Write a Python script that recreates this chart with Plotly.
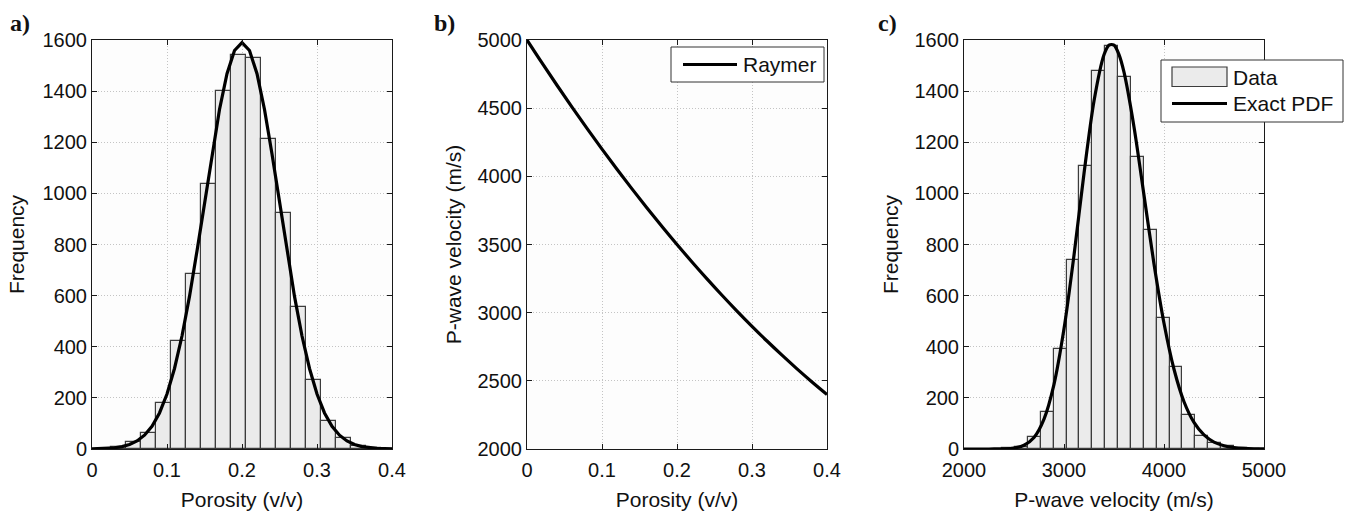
import plotly.graph_objects as go

W, H = 1352, 513

# ---------------- data ----------------
# a) porosity histogram
por_bin_centers = [0.0156, 0.0356, 0.0556, 0.0756, 0.0956, 0.1156, 0.1356, 0.1556, 0.1756, 0.1956,
                   0.2156, 0.2356, 0.2556, 0.2756, 0.2956, 0.3156, 0.3356, 0.3556, 0.3756, 0.3956]
por_counts = [1, 6, 27, 61, 179, 424, 685, 1035, 1401, 1541,
              1530, 1212, 923, 556, 268, 111, 42, 12, 3, 1]
por_bin_width = 0.02
por_pdf_x = [0.00, 0.01, 0.02, 0.03, 0.04, 0.05, 0.06, 0.07, 0.08, 0.09, 0.10,
             0.11, 0.12, 0.13, 0.14, 0.15, 0.16, 0.17, 0.18, 0.19, 0.20,
             0.21, 0.22, 0.23, 0.24, 0.25, 0.26, 0.27, 0.28, 0.29, 0.30,
             0.31, 0.32, 0.33, 0.34, 0.35, 0.36, 0.37, 0.38, 0.39, 0.40]
por_pdf_y = [0.5, 1.2, 2.4, 4.9, 9.5, 17.7, 31.5, 54, 89, 141, 215,
             315, 442, 597, 775, 965, 1154, 1328, 1468, 1559, 1590,
             1559, 1468, 1328, 1154, 965, 775, 597, 442, 315, 215,
             141, 89, 54, 31.5, 17.7, 9.5, 4.9, 2.4, 1.2, 0.5]

# b) Raymer relation
raymer_phi = [0.00, 0.02, 0.04, 0.06, 0.08, 0.10, 0.12, 0.14, 0.16, 0.18, 0.20,
              0.22, 0.24, 0.26, 0.28, 0.30, 0.32, 0.34, 0.36, 0.38, 0.40]
raymer_vp = [5000, 4832, 4668, 4508, 4352, 4200, 4052, 3908, 3768, 3632, 3500,
             3372, 3248, 3128, 3012, 2900, 2792, 2688, 2588, 2492, 2400]

# c) P-wave velocity histogram
vp_bin_centers = [2447, 2576, 2704, 2833, 2962, 3090, 3219, 3348, 3476, 3605,
                  3734, 3863, 3991, 4120, 4249, 4377, 4506, 4635, 4764, 4892]
vp_counts = [2, 9, 48, 143, 390, 741, 1109, 1477, 1577, 1457,
             1142, 855, 514, 321, 134, 52, 25, 10, 3, 1]
vp_bin_width = 128.7
vp_pdf_x = [2000, 2100, 2200, 2300, 2400, 2500, 2600, 2700, 2800, 2900, 3000,
            3100, 3200, 3300, 3400, 3450, 3500, 3550, 3600, 3700, 3800, 3900, 4000,
            4100, 4200, 4300, 4400, 4500, 4600, 4700, 4800, 4900, 5000]
vp_pdf_y = [0, 0, 0.05, 0.2, 0.8, 3.8, 14.6, 45, 117, 253, 470,
            758, 1078, 1361, 1542, 1580, 1580, 1543, 1474, 1260, 993, 724, 492,
            312, 185, 104, 55, 27, 13, 5.8, 2.5, 1.0, 0.4]

por_ticks = [0, 0.1, 0.2, 0.3, 0.4]
por_ticktext = ["0", "0.1", "0.2", "0.3", "0.4"]
freq_ticks = [0, 200, 400, 600, 800, 1000, 1200, 1400, 1600]
vp_ticks_b = [2000, 2500, 3000, 3500, 4000, 4500, 5000]
vp_ticks_c = [2000, 3000, 4000, 5000]

# ---------------- styling ----------------
FONT = "Liberation Sans, Arial, sans-serif"
TXT = "#111111"
BAR_FILL = "#ebebeb"
BAR_LINE = "#3c3c3c"
GRID = "#c4c4c4"


def px(x):
    return x / W


def py(y):
    return 1 - y / H


fig = go.Figure()

fig.add_trace(go.Bar(x=por_bin_centers, y=por_counts, width=por_bin_width,
                     marker=dict(color=BAR_FILL, line=dict(color=BAR_LINE, width=1.2)),
                     xaxis="x", yaxis="y", showlegend=False))
fig.add_trace(go.Scatter(x=por_pdf_x, y=por_pdf_y, mode="lines",
                         line=dict(color="black", width=3.2),
                         xaxis="x", yaxis="y", showlegend=False))
fig.add_trace(go.Scatter(x=raymer_phi, y=raymer_vp, mode="lines",
                         line=dict(color="black", width=3.2, shape="spline"),
                         xaxis="x2", yaxis="y2", showlegend=False))
fig.add_trace(go.Bar(x=vp_bin_centers, y=vp_counts, width=vp_bin_width,
                     marker=dict(color=BAR_FILL, line=dict(color=BAR_LINE, width=1.2)),
                     xaxis="x3", yaxis="y3", showlegend=False))
fig.add_trace(go.Scatter(x=vp_pdf_x, y=vp_pdf_y, mode="lines",
                         line=dict(color="black", width=3.2, shape="spline", smoothing=0.8),
                         xaxis="x3", yaxis="y3", showlegend=False))

ydom = [py(449), py(40)]
common = dict(showline=True, linecolor="#1a1a1a", linewidth=1, mirror="ticks",
              ticks="inside", ticklen=5, tickcolor="#1a1a1a", tickwidth=1,
              showgrid=True, gridcolor=GRID, griddash="1px,2px", gridwidth=1,
              zeroline=False, automargin=False,
              tickfont=dict(family=FONT, size=20, color=TXT),
              title_font=dict(family=FONT, size=21, color=TXT))
xcommon = dict(common, ticklabelstandoff=3)

layout = dict(
    width=W, height=H,
    margin=dict(l=0, r=0, t=0, b=0),
    paper_bgcolor="white", plot_bgcolor="#fdfdfd",
    bargap=0, showlegend=False,
    xaxis=dict(domain=[px(92), px(392)], range=[0, 0.4], tickvals=por_ticks, ticktext=por_ticktext,
               title=dict(text="Porosity (v/v)", standoff=12), anchor="y", **xcommon),
    yaxis=dict(domain=ydom, range=[0, 1600], tickvals=freq_ticks,
               title=dict(text="Frequency", standoff=12), anchor="x", **common),
    xaxis2=dict(domain=[px(527), px(827)], range=[0, 0.4], tickvals=por_ticks, ticktext=por_ticktext,
                title=dict(text="Porosity (v/v)", standoff=12), anchor="y2", **xcommon),
    yaxis2=dict(domain=ydom, range=[2000, 5000], tickvals=vp_ticks_b,
                title=dict(text="P-wave velocity (m/s)", standoff=10), anchor="x2", **common),
    xaxis3=dict(domain=[px(964), px(1264)], range=[2000, 5000], tickvals=vp_ticks_c,
                title=dict(text="P-wave velocity (m/s)", standoff=12), anchor="y3", **xcommon),
    yaxis3=dict(domain=ydom, range=[0, 1600], tickvals=freq_ticks,
                title=dict(text="Frequency", standoff=10), anchor="x3", **common),
)
fig.update_layout(**layout)

# panel labels
for lab, x in [("a)", 8), ("b)", 432), ("c)", 876)]:
    fig.add_annotation(text=lab, xref="paper", yref="paper", x=px(x), y=py(8),
                       xanchor="left", yanchor="top", showarrow=False,
                       font=dict(family="Liberation Serif, Times New Roman, serif", size=24,
                                 color=TXT, weight="bold"))

# legend b
fig.add_shape(type="rect", xref="paper", yref="paper", x0=px(671), x1=px(824), y0=py(82), y1=py(47),
              line=dict(color="#333333", width=1), fillcolor="white", layer="above")
fig.add_shape(type="line", xref="paper", yref="paper", x0=px(683), x1=px(737), y0=py(64.5), y1=py(64.5),
              line=dict(color="black", width=3.2), layer="above")
fig.add_annotation(text="Raymer", xref="paper", yref="paper", x=px(741), y=py(64.5),
                   xanchor="left", yanchor="middle", showarrow=False,
                   font=dict(family=FONT, size=21, color=TXT))

# legend c
fig.add_shape(type="rect", xref="paper", yref="paper", x0=px(1161), x1=px(1343), y0=py(122), y1=py(60),
              line=dict(color="#333333", width=1), fillcolor="white", layer="above")
fig.add_shape(type="rect", xref="paper", yref="paper", x0=px(1172), x1=px(1227), y0=py(86.5), y1=py(67),
              line=dict(color=BAR_LINE, width=1.2), fillcolor=BAR_FILL, layer="above")
fig.add_shape(type="line", xref="paper", yref="paper", x0=px(1172), x1=px(1227), y0=py(103.5), y1=py(103.5),
              line=dict(color="black", width=3.2), layer="above")
fig.add_annotation(text="Data", xref="paper", yref="paper", x=px(1231), y=py(77),
                   xanchor="left", yanchor="middle", showarrow=False,
                   font=dict(family=FONT, size=21, color=TXT))
fig.add_annotation(text="Exact PDF", xref="paper", yref="paper", x=px(1231), y=py(103.5),
                   xanchor="left", yanchor="middle", showarrow=False,
                   font=dict(family=FONT, size=21, color=TXT))

fig.write_html("out.html")
